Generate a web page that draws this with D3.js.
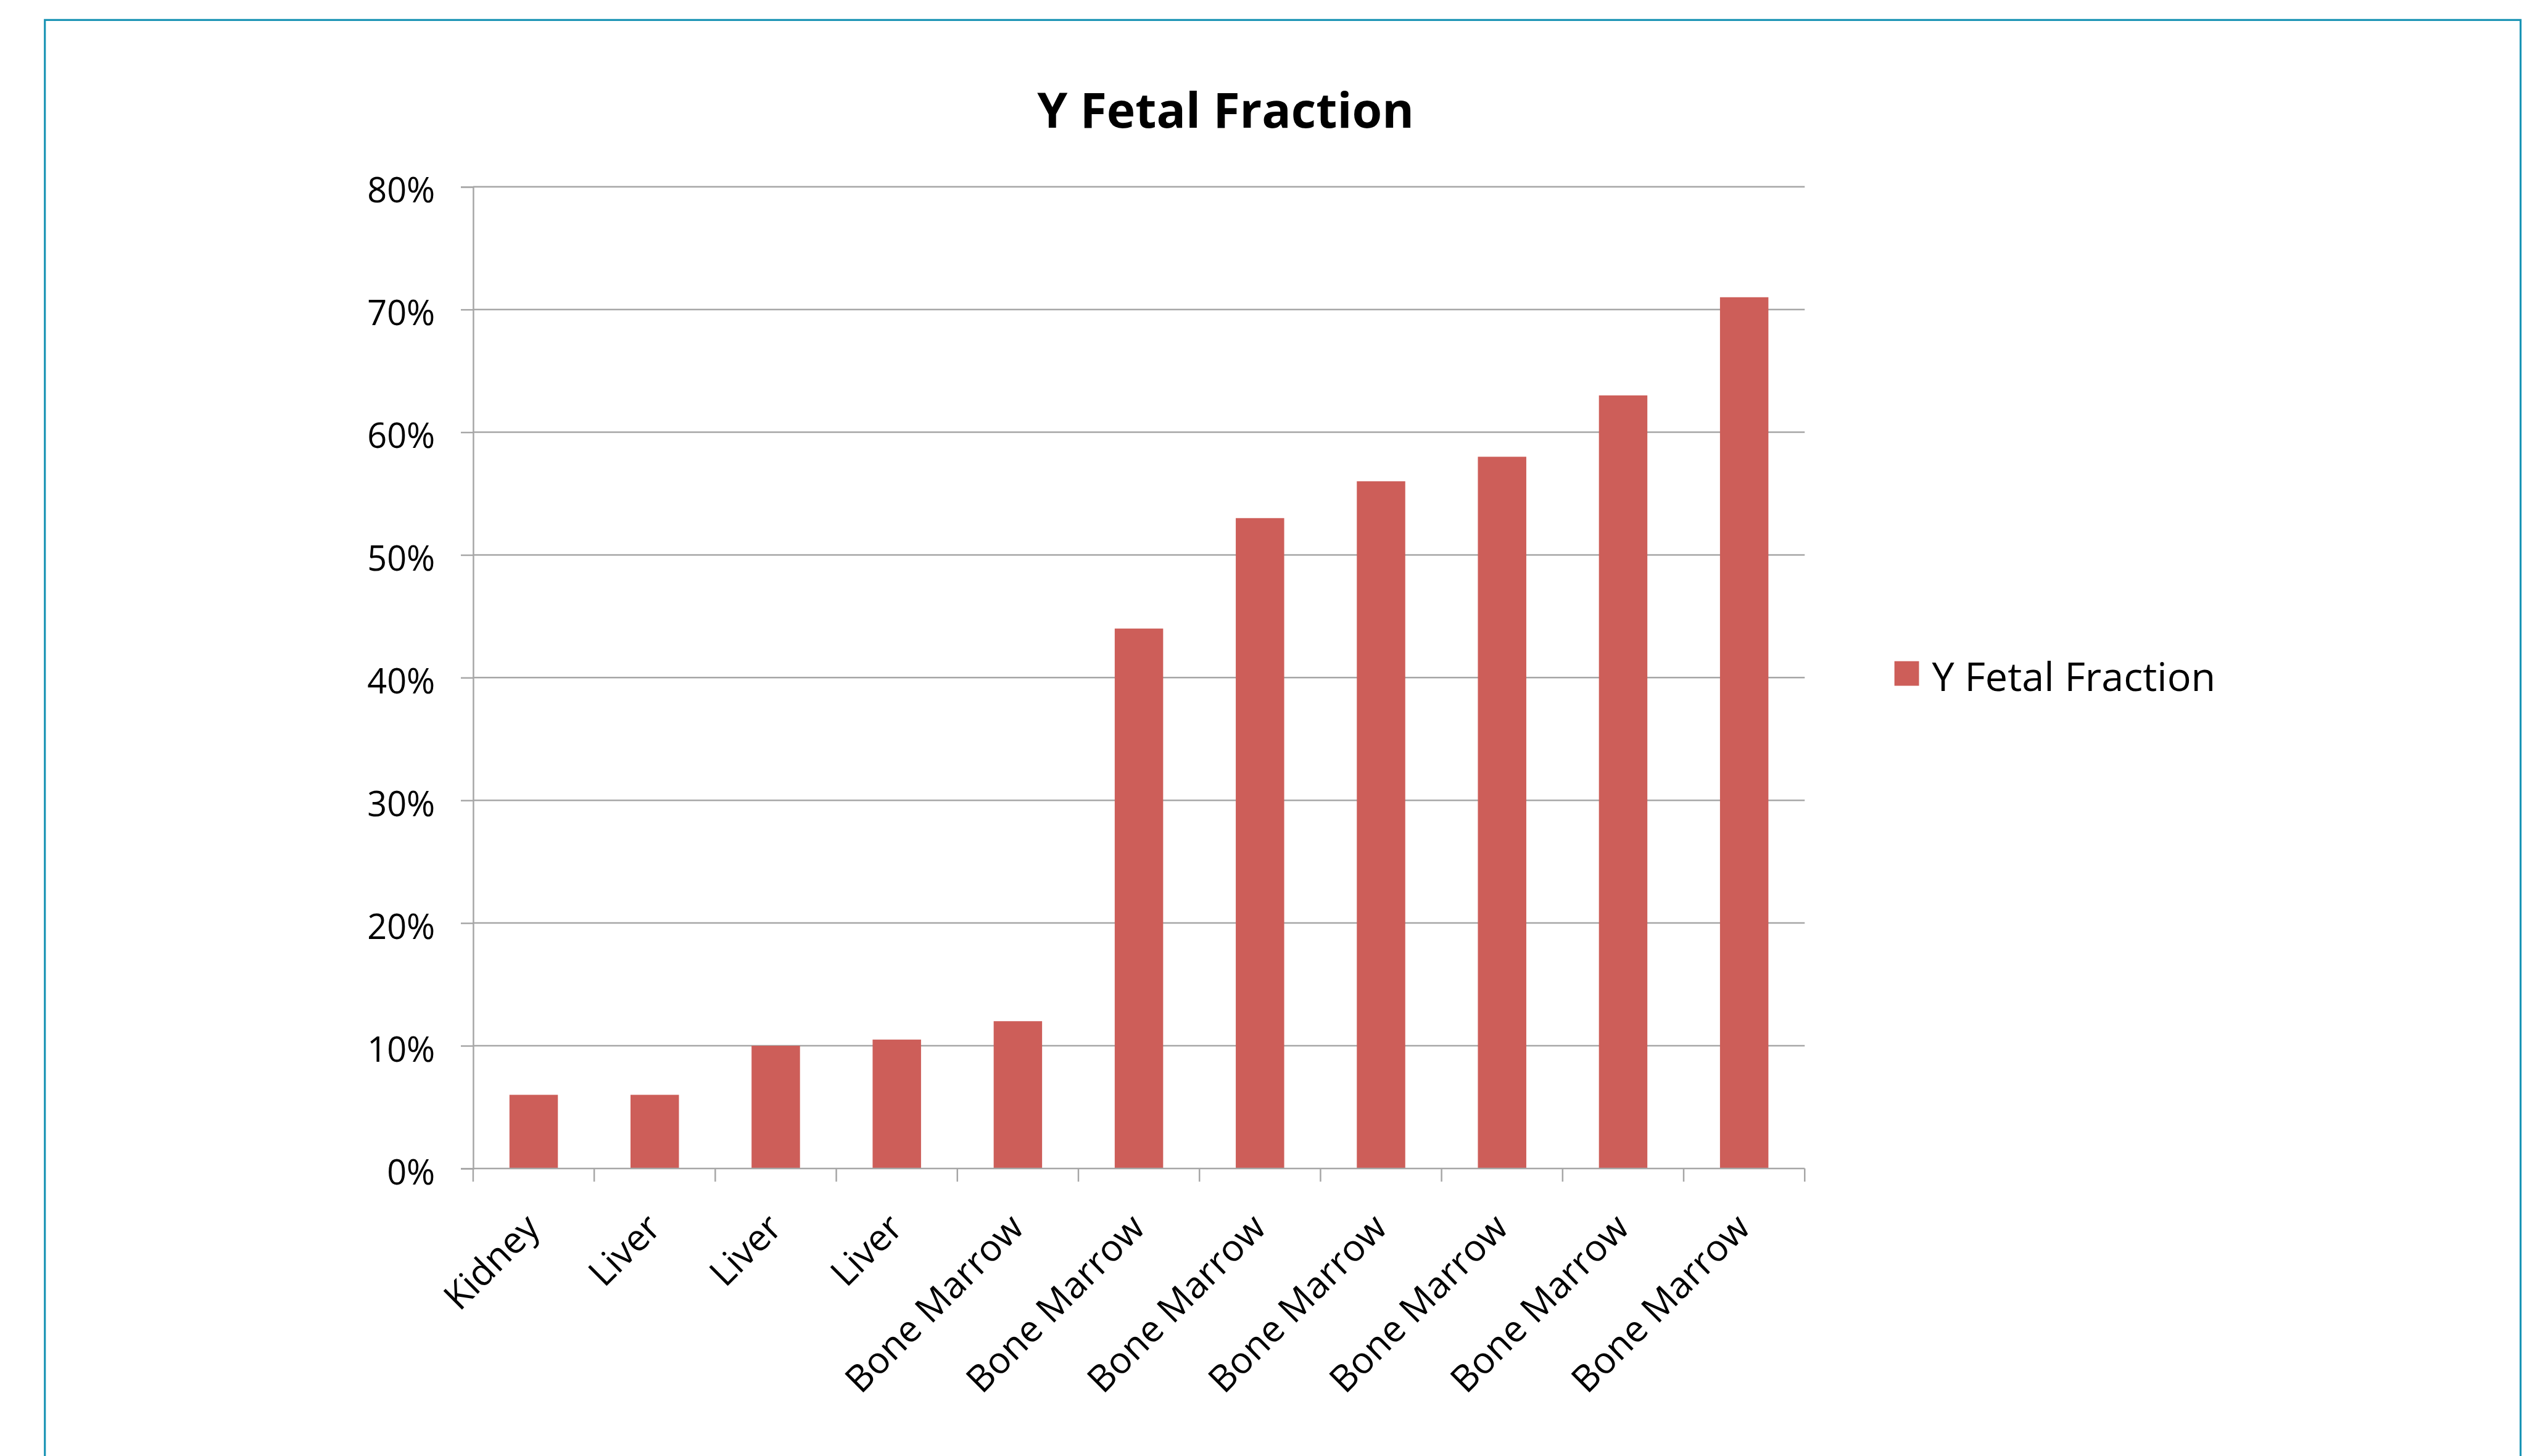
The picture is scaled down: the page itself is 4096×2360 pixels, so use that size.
<!DOCTYPE html>
<html>
<head>
<meta charset="utf-8">
<script src="https://cdn.jsdelivr.net/npm/d3@7"></script>
<style>
  html, body { margin: 0; padding: 0; background: #ffffff; overflow: hidden; }
  svg { display: block; }
  text { font-family: "Open Sans", "Noto Sans", sans-serif; fill: #000; }
</style>
</head>
<body>
<script>
// ---- data ----
const categories = ["Kidney", "Liver", "Liver", "Liver", "Bone Marrow", "Bone Marrow",
  "Bone Marrow", "Bone Marrow", "Bone Marrow", "Bone Marrow", "Bone Marrow"];
const values = [0.06, 0.06, 0.10, 0.105, 0.12, 0.44, 0.53, 0.56, 0.58, 0.63, 0.71];
const yTicks = [0, 0.1, 0.2, 0.3, 0.4, 0.5, 0.6, 0.7, 0.8];
const seriesName = "Y Fetal Fraction";
const titleText = "Y Fetal Fraction";

// ---- layout (reference pixel space, scaled by 0.996) ----
const W = 4096, H = 2360, S = 0.996;
const plot = { left: 770, right: 2937, top: 304, bottom: 1901.5 };
const barColor = "#cd5e59";
const gridColor = "#a6a6a6";
const frameColor = "#1a94b5";

const svg = d3.select("body").append("svg")
  .attr("width", W).attr("height", H);
const root = svg.append("g").attr("transform", `scale(${S})`);

// frame
root.append("rect")
  .attr("x", 73).attr("y", 32.5)
  .attr("width", 4102 - 73).attr("height", 2600)
  .attr("fill", "none").attr("stroke", frameColor).attr("stroke-width", 3.2);

// scales
const x = d3.scaleBand().domain(d3.range(categories.length))
  .range([plot.left, plot.right]).paddingInner(0.6).paddingOuter(0.3);
const y = d3.scaleLinear().domain([0, 0.8]).range([plot.bottom, plot.top]);

// gridlines
root.append("g").selectAll("line").data(yTicks.slice(1)).join("line")
  .attr("x1", plot.left).attr("x2", plot.right)
  .attr("y1", d => y(d)).attr("y2", d => y(d))
  .attr("stroke", gridColor).attr("stroke-width", 2.5);

// y axis
const yAxis = d3.axisLeft(y).tickValues(yTicks).tickFormat(d3.format(".0%"))
  .tickSize(20).tickPadding(42);
const yg = root.append("g").attr("transform", `translate(${plot.left},0)`).call(yAxis);
yg.select(".domain").attr("stroke", gridColor).attr("stroke-width", 2.5);
yg.selectAll(".tick line").attr("stroke", gridColor).attr("stroke-width", 2.5);
yg.selectAll(".tick text").attr("font-size", 56).attr("dy", "0.45em")
  .attr("font-family", "Open Sans").attr("fill", "#000");

// bars
root.append("g").selectAll("rect").data(values).join("rect")
  .attr("x", (d, i) => x(i)).attr("width", x.bandwidth())
  .attr("y", d => y(d)).attr("height", d => y(0) - y(d))
  .attr("fill", barColor);

// x axis line and boundary ticks
const step = x.step();
const xg = root.append("g");
xg.append("line").attr("x1", plot.left).attr("x2", plot.right)
  .attr("y1", y(0)).attr("y2", y(0))
  .attr("stroke", gridColor).attr("stroke-width", 2.5);
xg.selectAll("line.bt").data(d3.range(categories.length + 1)).join("line")
  .attr("class", "bt")
  .attr("x1", i => plot.left + i * step).attr("x2", i => plot.left + i * step)
  .attr("y1", y(0)).attr("y2", y(0) + 21.5)
  .attr("stroke", gridColor).attr("stroke-width", 2.5);

// x labels
xg.selectAll("text").data(categories).join("text")
  .attr("transform", (d, i) => `translate(${x(i) + x.bandwidth() / 2 + 13},${y(0) + 100}) rotate(-45)`)
  .attr("text-anchor", "end")
  .attr("font-size", 60)
  .text(d => d);

// title
root.append("text")
  .attr("x", 1994.5).attr("y", 207.7)
  .attr("text-anchor", "middle")
  .attr("font-weight", "bold").attr("font-size", 79)
  .attr("fill", "#231f20")
  .text(titleText);

// legend
const lg = root.append("g");
lg.append("rect").attr("x", 3083).attr("y", 1076).attr("width", 40).attr("height", 40)
  .attr("fill", barColor);
lg.append("text").attr("x", 3144).attr("y", 1124.5)
  .attr("font-size", 65).text(seriesName);
</script>
</body>
</html>
